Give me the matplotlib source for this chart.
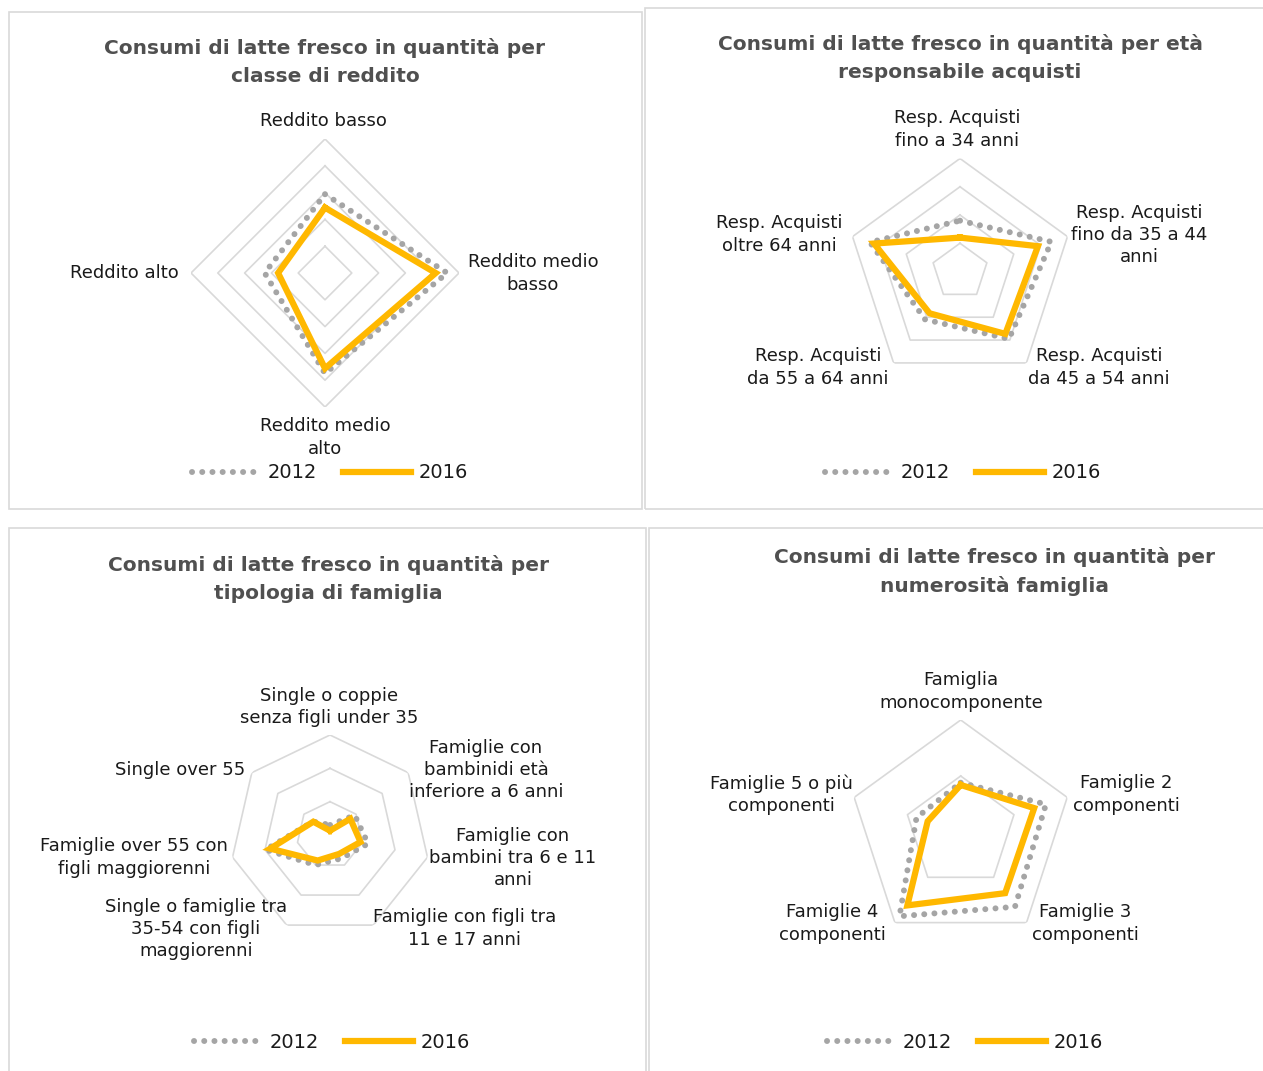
import numpy as np
import matplotlib.pyplot as plt
from matplotlib.patches import Rectangle
from matplotlib.lines import Line2D

# --- data ---
reddito_cat = ["Reddito basso", "Reddito medio\nbasso", "Reddito medio\nalto", "Reddito alto"]
reddito_2012 = [2.94, 4.56, 3.75, 2.25]
reddito_2016 = [2.44, 4.13, 3.56, 1.75]

eta_cat = ["Resp. Acquisti\nfino a 34 anni", "Resp. Acquisti\nfino da 35 a 44\nanni",
           "Resp. Acquisti\nda 45 a 54 anni", "Resp. Acquisti\nda 55 a 64 anni",
           "Resp. Acquisti\noltre 64 anni"]
eta_2012 = [1.8, 3.4, 2.95, 2.1, 3.35]
eta_2016 = [1.2, 2.9, 2.73, 1.83, 3.2]

tipo_cat = ["Single o coppie\nsenza figli under 35", "Famiglie con\nbambinidi età\ninferiore a 6 anni",
            "Famiglie con\nbambini tra 6 e 11\nanni", "Famiglie con figli tra\n11 e 17 anni",
            "Single o famiglie tra\n35-54 con figli\nmaggiorenni", "Famiglie over 55 con\nfigli maggiorenni",
            "Single over 55"]
tipo_2012 = [0.3, 0.95, 1.17, 0.78, 1.0, 1.98, 0.65]
tipo_2016 = [0.13, 0.78, 0.94, 0.63, 0.85, 1.84, 0.64]

num_cat = ["Famiglia\nmonocomponente", "Famiglie 2\ncomponenti", "Famiglie 3\ncomponenti",
           "Famiglie 4\ncomponenti", "Famiglie 5 o più\ncomponenti"]
num_2012 = [0.88, 1.6, 1.65, 1.86, 0.83]
num_2016 = [0.84, 1.38, 1.35, 1.62, 0.62]

years = ["2012", "2016"]

W, H = 1263, 1071
GRID = "#D9D9D9"
GRAY = "#A5A5A5"
GOLD = "#FFB800"
TXT = "#1A1A1A"
DOTS = (0, (0.01, 1.7))

fig = plt.figure(figsize=(W / 100, H / 100), dpi=100)


def fx(x):
    return x / W


def fy(y):
    return 1 - y / H


# panel frames
for x0, y0, x1, y1 in [(9, 12, 642, 509), (645, 8, 1266, 509),
                       (9, 528, 646, 1075), (649, 528, 1266, 1075)]:
    fig.patches.append(Rectangle((fx(x0), fy(y1)), (x1 - x0) / W, (y1 - y0) / H,
                                 transform=fig.transFigure, fill=False,
                                 edgecolor=GRID, lw=1.2))


def radar(cx, cy, R, rings, cats, v12, v16, label_pos, title, title_pos, leg_pos):
    ax = fig.add_axes([fx(cx - R), fy(cy + R), 2 * R / W, 2 * R / H], projection="polar")
    ax.set_theta_zero_location("N")
    ax.set_theta_direction(-1)
    ax.set_ylim(0, rings)
    ax.set_axis_off()
    n = len(cats)
    ang = np.linspace(0, 2 * np.pi, n, endpoint=False)
    ang_c = np.append(ang, ang[0])
    for k in range(1, rings + 1):
        ax.plot(ang_c, [k] * (n + 1), color=GRID, lw=1.2, zorder=1)
    ax.plot(ang_c, np.append(v12, v12[0]), color=GRAY, lw=4.3,
            linestyle=DOTS, dash_capstyle="round", zorder=2)
    ax.plot(ang_c, np.append(v16, v16[0]), color=GOLD, lw=4.5,
            solid_joinstyle="miter", zorder=3)
    for lab, (x, y) in zip(cats, label_pos):
        fig.text(fx(x), fy(y), lab, ha="center", va="center", multialignment="center",
                 fontsize=13, color=TXT, linespacing=1.32)
    fig.text(fx(title_pos[0]), fy(title_pos[1]), title, ha="center", va="center",
             multialignment="center", fontsize=14.5, fontweight="bold", color="#505050",
             linespacing=1.6)
    h12 = Line2D([], [], color=GRAY, lw=4.3, linestyle=DOTS, dash_capstyle="round")
    h16 = Line2D([], [], color=GOLD, lw=4.5)
    fig.legend([h12, h16], years, loc="center", bbox_to_anchor=(fx(leg_pos[0]), fy(leg_pos[1])),
               ncol=2, frameon=False, fontsize=14, handlelength=3.5, handletextpad=0.4,
               columnspacing=1.3, labelcolor=TXT)
    return ax


radar(325, 273, 134, 5, reddito_cat, reddito_2012, reddito_2016,
      [(323, 121), (533, 273.5), (325, 437.5), (124, 273)],
      "Consumi di latte fresco in quantità per\nclasse di reddito", (325, 62.5), (330, 473))

radar(960, 271.5, 113, 4, eta_cat, eta_2012, eta_2016,
      [(957, 129.5), (1139, 235), (1099, 367.5), (818, 367.5), (779, 234.5)],
      "Consumi di latte fresco in quantità per età\nresponsabile acquisti", (960, 58.5), (963, 473))

radar(330, 835, 100, 3, tipo_cat, tipo_2012, tipo_2016,
      [(329, 707), (486, 770), (513, 858), (465, 928.5), (196, 929), (134, 857.5), (180, 770)],
      "Consumi di latte fresco in quantità per\ntipologia di famiglia", (328, 579), (332, 1042))

radar(960.7, 832, 112, 2, num_cat, num_2012, num_2016,
      [(961, 691.5), (1126, 794.5), (1085, 923.5), (832, 923.5), (781, 794.5)],
      "Consumi di latte fresco in quantità per\nnumerosità famiglia", (995, 571.5), (965, 1042))

fig.savefig("out.png", dpi=100)
